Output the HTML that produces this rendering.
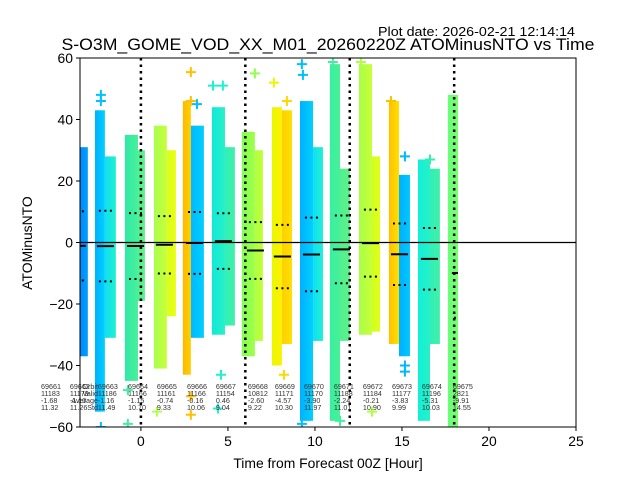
<!DOCTYPE html>
<html><head><meta charset="utf-8"><style>
body{margin:0;background:#fff}
svg{display:block;font-family:"Liberation Sans",sans-serif}
</style></head><body>
<svg id="chart" width="640" height="480" viewBox="0 0 640 480" xmlns="http://www.w3.org/2000/svg">
<defs><clipPath id="clip"><rect x="80" y="58" width="496" height="369"/></clipPath></defs>
<rect x="0" y="0" width="640" height="480" fill="#fff"/>
<text x="575" y="36" font-size="12.5" text-anchor="end" textLength="197" lengthAdjust="spacingAndGlyphs">Plot date: 2026-02-21 12:14:14</text>
<text x="328" y="50" font-size="16.5" text-anchor="middle" textLength="533" lengthAdjust="spacingAndGlyphs">S-O3M_GOME_VOD_XX_M01_20260220Z ATOMinusNTO vs Time</text>
<g id="plot" clip-path="url(#clip)"></g>
<g id="overlay"></g>
<rect x="80" y="58" width="496" height="369" fill="none" stroke="#000" stroke-width="1"/>
<g id="axes"></g>
<text x="328" y="468" font-size="13.9" text-anchor="middle">Time from Forecast 00Z [Hour]</text>
<text x="32" y="243" font-size="13.9" text-anchor="middle" transform="rotate(-90 32 243)">ATOMinusNTO</text>
</svg>
<script>
// strips: hour start, hour end, value top, value bottom, colors
const stripX0 = [-3.51,-2.64,-2.07,-0.92,-0.17,0.75,1.49,2.41,2.87,4.08,4.83,5.80,6.55,7.53,8.10,9.14,9.89,10.86,11.44,12.53,13.28,14.25,14.83,15.92,16.61,17.64];
const stripX1 = [-3.05,-2.07,-1.44,-0.17,0.23,1.49,2.01,2.87,3.62,4.83,5.40,6.55,7.01,8.10,8.68,9.89,10.46,11.44,12.01,13.28,13.74,14.83,15.46,16.61,17.18,18.22];
const stripTop = [31,43,28,35,30,38,30,46,38,44,31,36,30,44,43,46,31,58,24,58,28,46,22,27,24,48];
const stripBot = [-37,-55,-31,-45,-19,-41,-24,-43,-31,-30,-27,-37,-32,-40,-33,-58,-32,-58,-32,-30,-29,-33,-37,-58,-33,-60];
const stripColA = ["#0088ff","#00b0ff","#10e0f0","#30e8a8","#50f090","#a8ff50","#d8ff20","#ffb800","#00b8ff","#10e8d8","#30f0b8","#80ff58","#b0ff40","#e8f800","#ffd000","#00b0ff","#10e0f0","#38f0a0","#50f090","#a8ff48","#d0ff20","#ffc000","#00b0ff","#10f0d8","#30f0b8","#68ff78"];
const stripColB = ["#00a0ff","#00d0ff","#20f0d0","#48f098","#60f088","#c8ff38","#eaff10","#ffd000","#00d0ff","#28f0c8","#40f0a8","#a0ff48","#c0ff38","#fff000","#ffe000","#00d0ff","#20f0d8","#48f098","#60f088","#c8ff38","#e0ff18","#ffe000","#00c8ff","#28f0c8","#40f0a8","#78ff70"];
// outlier points
const outX = [-2.30,-2.30,3.22,2.87,2.87,4.14,4.71,6.55,7.64,8.39,9.25,9.31,11.03,12.64,14.37,15.17,16.61,-0.75,0.92,2.87,2.87,4.43,4.60,8.22,9.25,11.44,13.28,15.17,15.17,-2.30,-0.75];
const outY = [48,46,45,55.4,46,51,51,55,52,46,58,54.5,58.7,58.7,46,28,27,-59,-55,-50,-56,-54,-43,-43,-59,-58,-55,-42,-40,-60,-48];
const outC = ["#00c0ff","#00c0ff","#00c0ff","#ffc000","#ffc000","#20f0d0","#20f0d0","#90ff50","#e8f800","#ffd800","#00c0ff","#00c0ff","#40f0a0","#b0ff40","#ffc000","#00b8ff","#30f0b0","#40f0a0","#b0ff50","#ffc000","#ffc000","#20f0d0","#20f0d0","#ffd800","#00c0ff","#40f0a0","#b0ff40","#00b8ff","#00b8ff","#00c0ff","#40f0a0"];
// orbit statistics
const orbitIds = ["69661","69662","69663","69664","69665","69666","69667","69668","69669","69670","69671","69672","69673","69674","69675"];
const orbitStart = [-5.8,-4.14,-2.53,-0.80,0.86,2.59,4.25,6.09,7.64,9.31,11.03,12.70,14.37,16.09,17.87];
const orbitValid = ["11183","11179","11186","11166","11161","11166","11154","10812","11171","11170","11188","11184","11177","11196","2821"];
const orbitMean = [-1.68,-1.10,-1.16,-1.15,-0.74,-0.16,0.46,-2.60,-4.57,-3.90,-2.24,-0.21,-3.83,-5.31,-9.91];
const orbitStd = [11.32,11.26,11.49,10.70,9.33,10.06,9.04,9.22,10.30,11.97,11.01,10.90,9.99,10.03,14.55];
const meanLabels = ["-1.68","-1.10","-1.16","-1.15","-0.74","-0.16","0.46","-2.60","-4.57","-3.90","-2.24","-0.21","-3.83","-5.31","-9.91"];
const stdLabels = ["11.32","11.26","11.49","10.70","9.33","10.06","9.04","9.22","10.30","11.97","11.01","10.90","9.99","10.03","14.55"];
const xTicks = [0,5,10,15,20,25];
const yTicks = [-60,-40,-20,0,20,40,60];
const vLines = [0,6,12,18];
const dataEnd = 18.22;

const NS="http://www.w3.org/2000/svg";
const X = h => 80 + (h + 3.5) * (496/28.5);
const Y = v => 242.5 - v * (369/120);
function mk(tag, parent, attrs){const e=document.createElementNS(NS,tag);for(const k in attrs)e.setAttribute(k,attrs[k]);parent.appendChild(e);return e;}
const plot=document.getElementById('plot'), axes=document.getElementById('axes'), ov=document.getElementById('overlay');
const defs=document.querySelector('defs');

stripX0.forEach((x0,i)=>{
  const g=mk('linearGradient',defs,{id:'g'+i,x1:'0',x2:'1',y1:'0',y2:'0'});
  mk('stop',g,{offset:'0','stop-color':stripColA[i]});
  mk('stop',g,{offset:'1','stop-color':stripColB[i]});
  const r=mk('rect',plot,{x:X(x0),y:Y(stripTop[i]),width:X(stripX1[i])-X(x0),height:Y(stripBot[i])-Y(stripTop[i]),fill:'url(#g'+i+')'});
  
  
});
outX.forEach((x,i)=>{
  const cx=X(x), cy=Y(outY[i]);
  const p=mk('path',plot,{d:`M${cx-5} ${cy}H${cx+5}M${cx} ${cy-5}V${cy+5}`,stroke:outC[i],'stroke-width':2,fill:'none'});
  
  
});
// zero line
const zl=mk('line',plot,{x1:80,x2:576,y1:Y(0),y2:Y(0),stroke:'#000','stroke-width':1.2});


vLines.forEach(h=>{
  const l=mk('line',plot,{x1:X(h),x2:X(h),y1:58,y2:427,stroke:'#000','stroke-width':2.5,'stroke-dasharray':'2.5 4'});
  
  
});
orbitStart.forEach((s,i)=>{
  const e=Math.min(s+0.98,dataEnd);
  const m=mk('line',plot,{x1:X(s),x2:X(e),y1:Y(orbitMean[i]),y2:Y(orbitMean[i]),stroke:'#000','stroke-width':2});
  
  
  [orbitMean[i]+orbitStd[i],orbitMean[i]-orbitStd[i]].forEach(v=>{
    const d=mk('line',plot,{x1:X(s)+2,x2:X(e),y1:Y(v),y2:Y(v),stroke:'#000','stroke-width':2,'stroke-dasharray':'2 3.5'});
    
    
  });
  const lines=[orbitIds[i],orbitValid[i],meanLabels[i],stdLabels[i]];
  lines.forEach((t,k)=>{
    const tx=mk('text',ov,{x:X(s)+1,y:389+k*7,'font-size':7.2,fill:'#333'});
    tx.textContent=t;
    
    
  });
});
["Orbit","Valid","Average","Std"].forEach((t,k)=>{
  const tx=mk('text',ov,{x:98,y:389+k*7,'font-size':7.2,fill:'#333','text-anchor':'end'});
  tx.textContent=t;
  
  
});
xTicks.forEach(t=>{
  const l=mk('line',axes,{x1:X(t),x2:X(t),y1:427,y2:431,stroke:'#000'});
  
  
  const tx=mk('text',axes,{x:X(t),y:446,'font-size':13.9,'text-anchor':'middle'});
  tx.textContent=t;
  
  
});
yTicks.forEach(t=>{
  const l=mk('line',axes,{x1:76,x2:80,y1:Y(t),y2:Y(t),stroke:'#000'});
  
  
  const tx=mk('text',axes,{x:73,y:Y(t)+5,'font-size':13.9,'text-anchor':'end'});
  tx.textContent=t<0?'\u2212'+(-t):t;
  
  
});
</script>
</body></html>
